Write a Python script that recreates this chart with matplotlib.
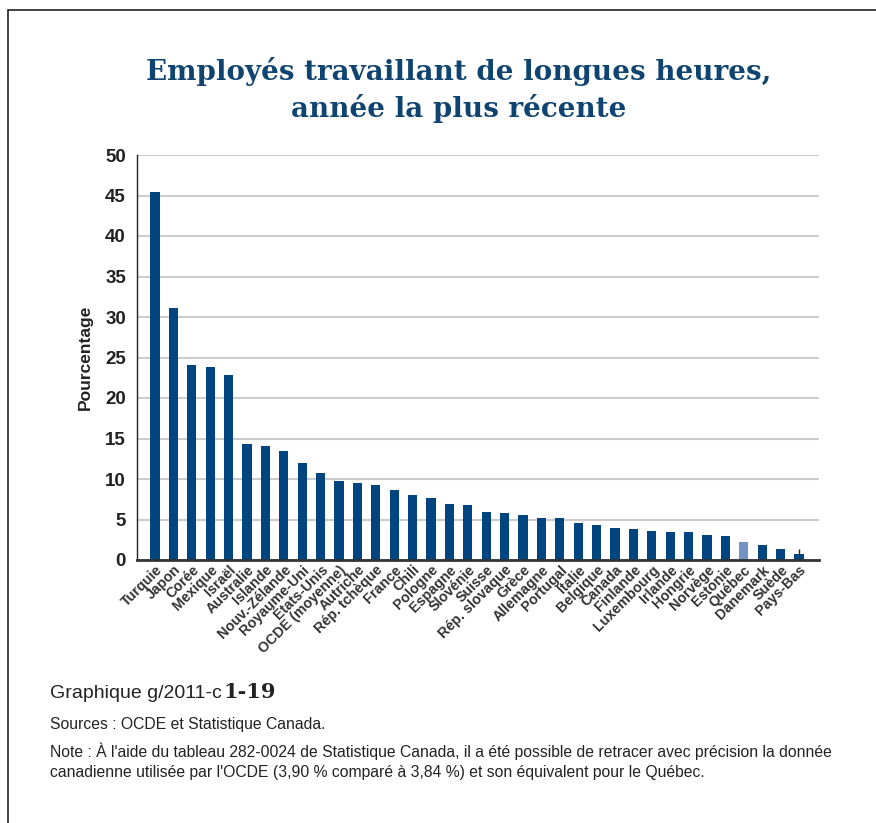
import matplotlib.pyplot as plt
import numpy as np
from matplotlib.patches import Rectangle

pays = ['Turquie', 'Japon', 'Corée', 'Mexique', 'Israël', 'Australie', 'Islande',
        'Nouv.-Zélande', 'Royaume-Uni', 'États-Unis', 'OCDE (moyenne)', 'Autriche',
        'Rép. tchèque', 'France', 'Chili', 'Pologne', 'Espagne', 'Slovénie', 'Suisse',
        'Rép. slovaque', 'Grèce', 'Allemagne', 'Portugal', 'Italie', 'Belgique',
        'Canada', 'Finlande', 'Luxembourg', 'Irlande', 'Hongrie', 'Norvège',
        'Estonie', 'Québec', 'Danemark', 'Suède', 'Pays-Bas']
pourcentage = [45.4, 31.1, 24.1, 23.8, 22.9, 14.3, 14.1, 13.4, 12.0, 10.8, 9.8, 9.5,
               9.2, 8.6, 8.0, 7.6, 6.9, 6.8, 5.9, 5.8, 5.6, 5.2, 5.2, 4.6, 4.3,
               3.9, 3.8, 3.6, 3.5, 3.5, 3.1, 3.0, 2.2, 1.9, 1.3, 0.7]
# petit trait au-dessus des Pays-Bas
trait_haut = [0] * 35 + [0.6]

bleu = '#00457f'
bleu_clair = '#7393c2'
couleurs = [bleu_clair if p == 'Québec' else bleu for p in pays]

plt.rcParams['font.family'] = ['Liberation Sans', 'DejaVu Sans']

fig = plt.figure(figsize=(8.76, 8.23), dpi=100)
ax = fig.add_axes([137/876, 1-560/823, (819-137)/876, (560-155)/823])

x = np.arange(len(pays))
ax.bar(x, pourcentage, width=0.5, color=couleurs, zorder=3)
ax.errorbar(x, pourcentage, yerr=[[0]*len(pays), trait_haut], fmt='none',
            ecolor='#222222', elinewidth=1, capsize=0, zorder=4)

ax.set_xlim(-0.98, len(pays) + 0.09)
ax.set_ylim(0, 50)
ax.set_yticks(range(0, 51, 5))
ax.yaxis.grid(True, color='#cccccc', linewidth=1.5, zorder=0)
ax.tick_params(axis='y', length=0, labelsize=13.5, pad=8, labelcolor='#222222')
ax.tick_params(axis='x', length=0, pad=2)
for lab in ax.get_yticklabels():
    lab.set_fontweight('bold')
ax.set_xticks(x)
ax.set_xticklabels(pays, rotation=45, ha='right', rotation_mode='anchor',
                   fontsize=10.3, fontweight='bold', color='#333333')
ax.set_ylabel('Pourcentage', fontsize=12.5, fontweight='bold', color='#222222', labelpad=9)

for s in ['top', 'right']:
    ax.spines[s].set_visible(False)
ax.spines['left'].set_color('#222222')
ax.spines['left'].set_linewidth(1)
ax.spines['bottom'].set_color('#333333')
ax.spines['bottom'].set_linewidth(2)
ax.spines['bottom'].set_zorder(5)

fig.text(0.524, 1-90/823, 'Employés travaillant de longues heures,\nannée la plus récente',
         ha='center', va='center', fontsize=20, fontweight='bold', color='#0f4470',
         family='DejaVu Serif', linespacing=1.32)

# pied de graphique
t = fig.text(50/876, 1-693/823, 'Graphique g/2011-c', fontsize=14, color='#222222',
             va='center')
fig.canvas.draw()
bb = t.get_window_extent()
fig.text(bb.x1/876 + 0.002, 1-692/823, '1-19', fontsize=15, fontweight='bold',
         family='DejaVu Serif', color='#222222', va='center')
fig.text(50/876, 1-724/823, 'Sources : OCDE et Statistique Canada.', fontsize=11.3,
         color='#222222', va='center')
fig.text(50/876, 1-751/823,
         "Note : À l'aide du tableau 282-0024 de Statistique Canada, il a été possible de retracer avec précision la donnée",
         fontsize=11.3, color='#222222', va='center')
fig.text(50/876, 1-773/823,
         "canadienne utilisée par l'OCDE (3,90 % comparé à 3,84 %) et son équivalent pour le Québec.",
         fontsize=11.3, color='#222222', va='center')

# cadre
fig.patches.append(Rectangle((8/876, -0.1), 1.0, 1.1 - 10/823, transform=fig.transFigure,
                             fill=False, edgecolor='#222222', linewidth=1.2))

fig.savefig('out.png', dpi=100)
